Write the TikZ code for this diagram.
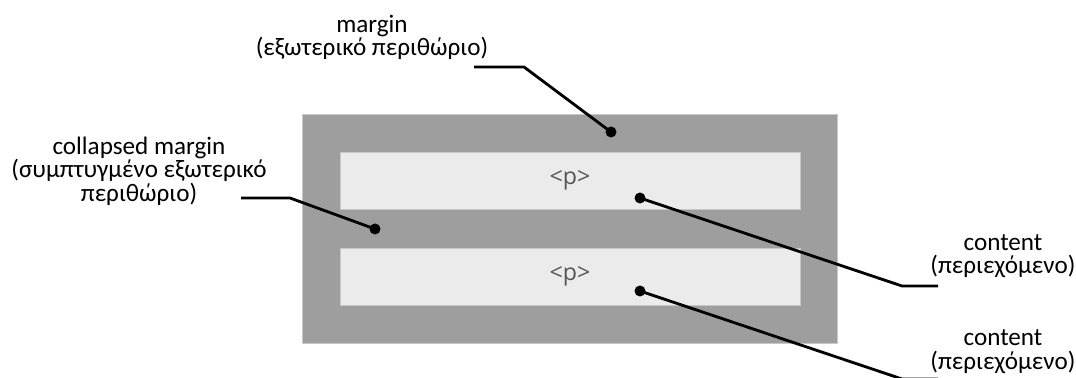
\documentclass[tikz,border=0pt]{standalone}
\usepackage{fontspec}
\setmainfont{Carlito}
\newfontfamily\tagfont{Open Sans}
\usepackage{tikz}
\usepackage{xcolor}
\definecolor{margingray}{HTML}{9E9E9E}
\definecolor{contentgray}{HTML}{EBEBEB}
\definecolor{edgegray}{HTML}{C8C8C8}
\definecolor{taggray}{HTML}{555555}

\begin{document}
\begin{tikzpicture}[
  lbl/.style={align=center,font=\fontsize{14.3}{13.4}\selectfont},
  pin/.style={circle,fill=black,inner sep=0pt,minimum size=0.22cm},
  lead/.style={line width=1.6pt},
  mbox/.style={draw=edgegray,fill=margingray,line width=0.5pt,inner sep=0pt},
  pbox/.style={draw=edgegray,fill=contentgray,line width=0.5pt,inner sep=0pt,
    minimum width=9.2cm,minimum height=1.14cm,text=taggray,
    font=\tagfont\fontsize{13.2}{14}\selectfont}]
\useasboundingbox (0,0) rectangle (21.52,7.56);
\node[mbox,minimum width=10.7cm,minimum height=4.58cm] (box) at (11.39,2.99) {};
\node[pbox] (p1) at (11.40,3.95) {<p>};
\node[pbox] (p2) at (11.40,2.03) {<p>};
\node[lbl] (mg) at (7.44,6.81) {margin\\(εξωτερικό περιθώριο)};
\node[lbl] (cm) at (2.78,4.14) {collapsed margin\\(συμπτυγμένο εξωτερικό\\περιθώριο)};
\node[lbl] (ct1) at (20.06,2.44) {content\\(περιεχόμενο)};
\node[lbl] (ct2) at (20.06,0.53) {content\\(περιεχόμενο)};
\node[pin] (mgDot) at (12.22,4.92) {};
\node[pin] (cmDot) at (7.50,2.98) {};
\node[pin] (ct1Dot) at (12.80,3.60) {};
\node[pin] (ct2Dot) at (12.80,1.74) {};
\coordinate (mgEnd) at (9.48,6.22);
\coordinate (mgBend) at (10.48,6.22);
\coordinate (cmEnd) at (4.82,3.60);
\coordinate (cmBend) at (5.80,3.60);
\coordinate (ct1Bend) at (18.04,1.84);
\coordinate (ct1End) at (18.76,1.84);
\coordinate (ct2Bend) at (18.04,-0.02);
\coordinate (ct2End) at (18.76,-0.02);
\draw[lead] (mgEnd) -- (mgBend) -- (mgDot.center);
\draw[lead] (cmEnd) -- (cmBend) -- (cmDot.center);
\draw[lead] (ct1Dot.center) -- (ct1Bend) -- (ct1End);
\draw[lead] (ct2Dot.center) -- (ct2Bend) -- (ct2End);
\end{tikzpicture}
\end{document}
